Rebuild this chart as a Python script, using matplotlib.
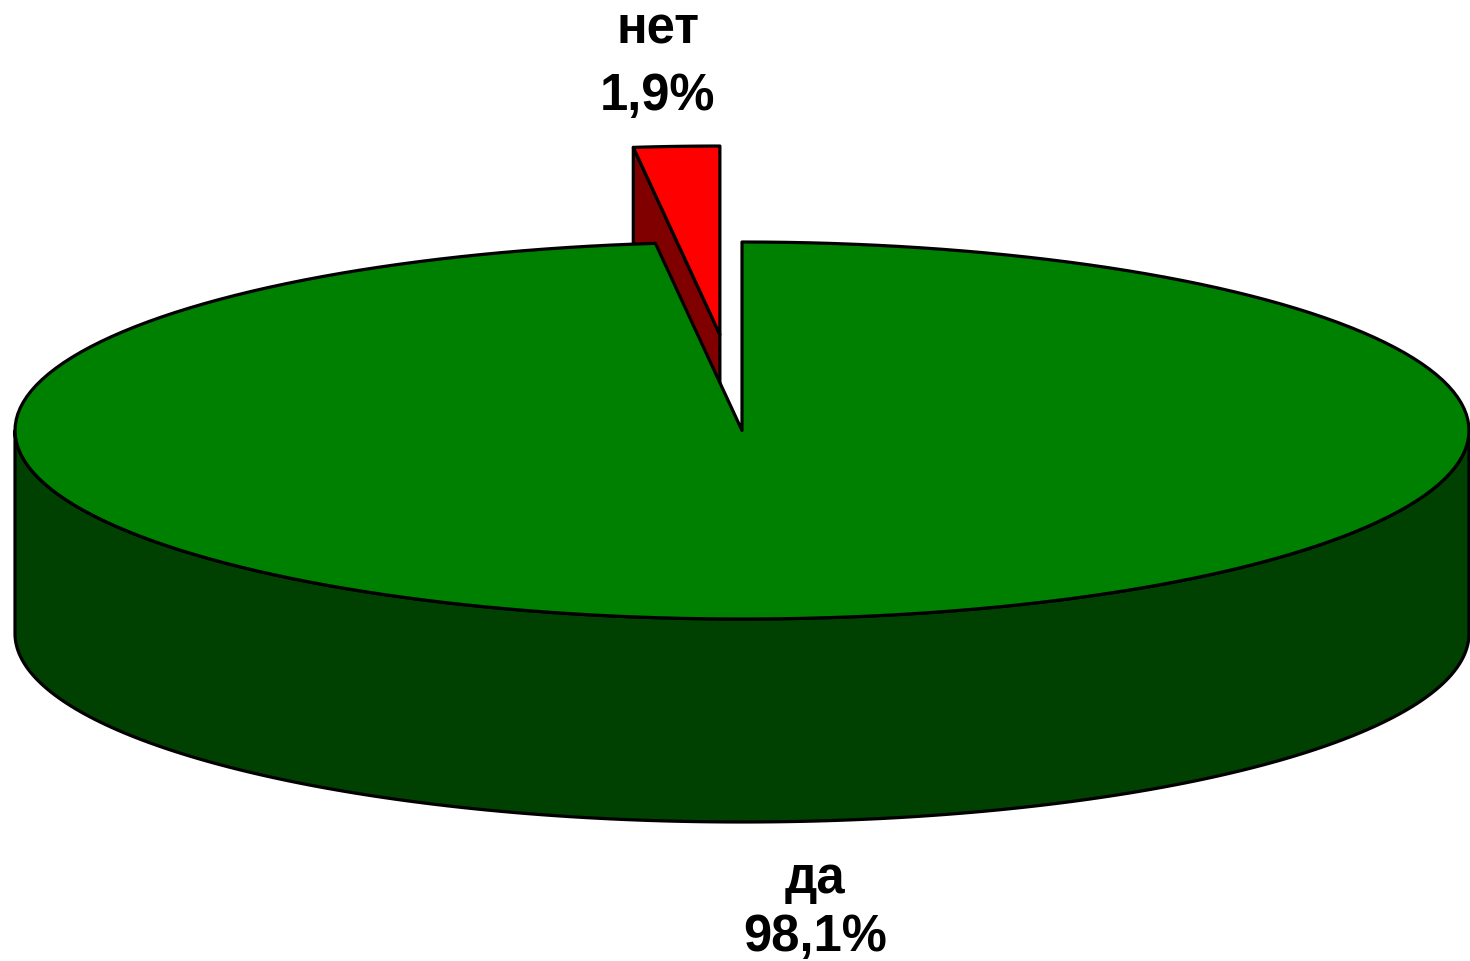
import numpy as np
import matplotlib
matplotlib.use("Agg")
import matplotlib.pyplot as plt
from matplotlib.patches import Polygon

# data
labels = ["да", "нет"]
values = [98.1, 1.9]
pct_text = ["98,1%", "1,9%"]

top_colors = ["#008000", "#ff0000"]
side_colors = ["#004000", "#800000"]

# pie geometry in pixel units (y grows downward)
cx, cy = 742, 431.5
rx, ry = 727, 188.5
depth = 203
explode = [0.0, 0.51]
start_angle = 90


def rim(theta_deg, dx=0.0, dy=0.0, down=0.0):
    t = np.radians(theta_deg)
    return np.column_stack([cx + dx + rx * np.cos(t), cy + dy - ry * np.sin(t) + down])


def arc_angles(a1, a2, n=200):
    return np.linspace(a1, a2, n)


fig = plt.figure(figsize=(14.7, 9.62), dpi=100)
ax = fig.add_axes([0, 0, 1, 1])
ax.set_xlim(0, 1470)
ax.set_ylim(962, 0)
ax.axis("off")

total = sum(values)
slices = []
a = start_angle
for v in values:
    sweep = 360.0 * v / total
    slices.append((a, a - sweep))
    a -= sweep

edge_kw = dict(edgecolor="black", linewidth=2.3, joinstyle="round")

# draw the exploded (back) slice first, then the big one on top
order = [1, 0]
for i in order:
    a1, a2 = slices[i]
    mid = np.radians((a1 + a2) / 2)
    dx = explode[i] * rx * np.cos(mid)
    dy = -explode[i] * ry * np.sin(mid)
    centre = np.array([[cx + dx, cy + dy]])

    if explode[i] > 0:
        # radial cut face at the start angle, turned towards the viewer
        face = np.vstack([centre, rim(a1, dx, dy), rim(a1, dx, dy, depth), centre + [0, depth]])
        ax.add_patch(Polygon(face, closed=True, facecolor=side_colors[i], **edge_kw))
    else:
        # front outer wall, angles 180..360
        ang = arc_angles(-180, 0)
        wall = np.vstack([rim(ang, dx, dy), rim(ang[::-1], dx, dy, depth)])
        ax.add_patch(Polygon(wall, closed=True, facecolor=side_colors[i], **edge_kw))

    top = np.vstack([centre, rim(arc_angles(a1, a2), dx, dy)])
    ax.add_patch(Polygon(top, closed=True, facecolor=top_colors[i], **edge_kw))

font = dict(family=["Liberation Sans", "DejaVu Sans"], fontsize=36.5,
            fontweight="bold", ha="center", va="baseline", color="black")
label_pos = {0: (815, 893), 1: (658, 43)}
line_gap = {0: 58, 1: 67}
for i in range(len(values)):
    x, y = label_pos[i]
    ax.text(x, y, labels[i], **font)
    ax.text(x, y + line_gap[i], pct_text[i], **font)

fig.savefig("out.png", dpi=100, facecolor="white")
